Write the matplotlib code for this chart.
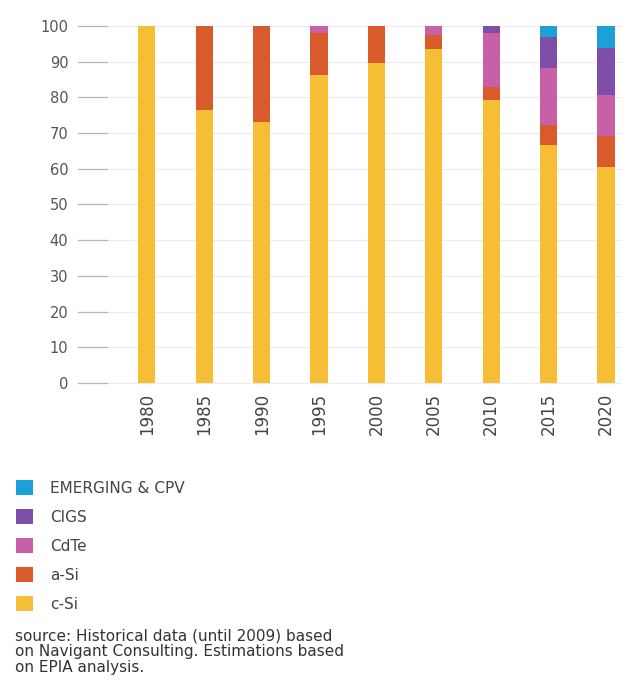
import matplotlib.pyplot as plt
import numpy as np

years = ['1980', '1985', '1990', '1995', '2000', '2005', '2010', '2015', '2020']
c_si = [100, 76.5, 73.1, 86.4, 89.6, 93.5, 79.4, 66.6, 60.4]
a_si = [0, 23.5, 26.9, 11.7, 10.4, 4.1, 3.5, 5.8, 8.7]
cdte = [0, 0, 0, 1.9, 0, 2.4, 15.2, 15.8, 11.5]
cigs = [0, 0, 0, 0, 0, 0, 1.9, 8.7, 13.3]
emerging = [0, 0, 0, 0, 0, 0, 0, 3.1, 6.1]

series = [
    ('c-Si', c_si, '#F6BE35'),
    ('a-Si', a_si, '#D95B2B'),
    ('CdTe', cdte, '#C860A8'),
    ('CIGS', cigs, '#7E4FA8'),
    ('EMERGING & CPV', emerging, '#1BA0D8'),
]

fig = plt.figure(figsize=(6.22, 6.86), dpi=100)
ax = fig.add_axes([0.1254, 0.4417, 0.8746, 0.5204])

x = np.arange(len(years))
bottom = np.zeros(len(years))
handles = []
for name, vals, col in series:
    b = ax.bar(x, vals, width=0.3, bottom=bottom, color=col, label=name, zorder=3)
    handles.append(b)
    bottom += np.array(vals)

# light grid across the plot, darker short dashes next to the labels
yt = np.arange(0, 101, 10)
for y in yt:
    ax.axhline(y, xmin=0.053, xmax=1, color='#ececec', lw=0.8, zorder=1, clip_on=False)
    ax.axhline(y, xmin=0, xmax=0.053, color='#b5b5b5', lw=0.9, zorder=1, clip_on=False)

ax.set_xlim(-1.2, 8.28)
ax.set_ylim(0, 100)
ax.set_yticks(yt)
ax.set_yticklabels([str(v) for v in yt], fontsize=10.5, color='#555555')
ax.set_xticks(x)
ax.set_xticklabels(years, rotation=90, fontsize=12, color='#444444')
ax.tick_params(axis='y', length=0, pad=7)
ax.tick_params(axis='x', length=0, pad=7)
for s in ax.spines.values():
    s.set_visible(False)

fig.legend(handles[::-1], [s[0] for s in series][::-1], loc='upper left',
           bbox_to_anchor=(0.004, 0.32), frameon=False, fontsize=11,
           handlelength=1.1, handleheight=1.1, handletextpad=1.1,
           labelspacing=0.88, labelcolor='#444444')

fig.text(0.024, 0.0496, 'source: Historical data (until 2009) based\n'
         'on Navigant Consulting. Estimations based\non EPIA analysis.',
         fontsize=11, color='#333333', va='center', linespacing=1.05)

fig.savefig('out.png', dpi=100)
